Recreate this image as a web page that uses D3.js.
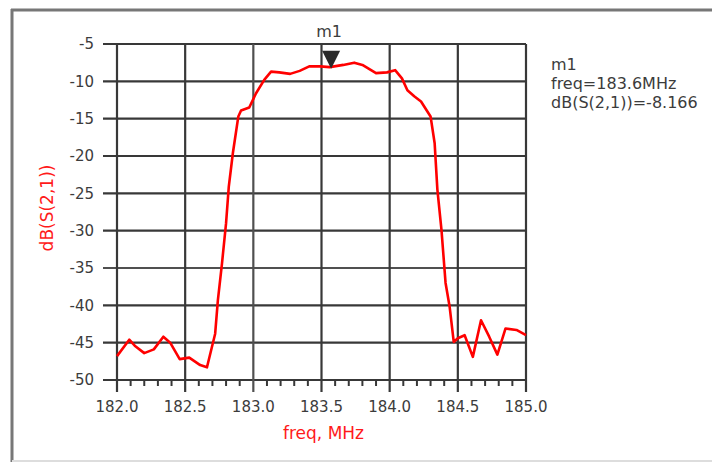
<!DOCTYPE html>
<html>
  <head>
    <meta charset="utf-8">
    <script src="https://cdn.jsdelivr.net/npm/d3@7/dist/d3.min.js"></script>
    <style type="text/css">

html, body {
  margin: 0;
  padding: 0;
  background: #fff;
}

svg text {
  font-family: "DejaVu Sans", sans-serif;
}

    </style>
  </head>
  <body>
    <svg id="chart" width="712" height="462"></svg>
    <script type="text/javascript">

// trace
var freq = [182.00, 182.09, 182.13, 182.20, 182.27, 182.34, 182.39, 182.46, 182.53, 182.61,
            182.66, 182.72, 182.74, 182.77, 182.80, 182.82, 182.85, 182.89, 182.91, 182.97,
            183.02, 183.08, 183.13, 183.19, 183.27, 183.34, 183.41, 183.49, 183.56, 183.66,
            183.74, 183.80, 183.90, 183.98, 184.04, 184.09, 184.13, 184.18, 184.23, 184.30,
            184.33, 184.35, 184.38, 184.41, 184.44, 184.47, 184.50, 184.55, 184.61, 184.67,
            184.73, 184.79, 184.85, 184.93, 185.00];
var s21 = [-46.8, -44.6, -45.4, -46.4, -45.9, -44.2, -45.0, -47.2, -47.0, -48.0,
           -48.3, -43.8, -39.3, -34.4, -29.0, -24.1, -19.6, -14.7, -13.9, -13.5,
           -11.6, -9.8, -8.7, -8.8, -9.0, -8.6, -8.0, -8.0, -8.1, -7.8,
           -7.5, -7.8, -8.9, -8.8, -8.5, -9.6, -11.2, -12.0, -12.7, -14.7,
           -18.3, -24.5, -29.9, -37.0, -40.2, -44.9, -44.4, -44.0, -46.9, -42.0,
           -44.2, -46.6, -43.1, -43.3, -44.0];

var xTicks = [182.0, 182.5, 183.0, 183.5, 184.0, 184.5, 185.0];
var yTicks = [-5, -10, -15, -20, -25, -30, -35, -40, -45, -50];
var marker = {name: "m1", freq: 183.6, value: -8.166};
var legendLines = ["m1", "freq=183.6MHz", "dB(S(2,1))=-8.166"];

var svg = d3.select("#chart");

// outer frame
svg.append("line").attr("x1", 11).attr("x2", 712).attr("y1", 10).attr("y2", 10)
    .attr("stroke", "#777").attr("stroke-width", 3);
svg.append("line").attr("x1", 12).attr("x2", 12).attr("y1", 9).attr("y2", 462)
    .attr("stroke", "#777").attr("stroke-width", 3);
svg.append("line").attr("x1", 12).attr("x2", 712).attr("y1", 461).attr("y2", 461)
    .attr("stroke", "#ddd").attr("stroke-width", 2);

var pLeft = 117, pRight = 526, pTop = 44, pBottom = 380;

var x = d3.scaleLinear().domain([182, 185]).range([pLeft, pRight]);
var y = d3.scaleLinear().domain([-50, -5]).range([pBottom, pTop]);

var grid = svg.append("g");

// horizontal grid lines, run out past the left edge as ticks
grid.selectAll("line.h")
    .data(yTicks)
  .enter().append("line")
    .attr("class", "h")
    .attr("x1", pLeft - 14)
    .attr("x2", pRight)
    .attr("y1", function(d) { return y(d); })
    .attr("y2", function(d) { return y(d); })
    .attr("stroke", function(d) { return d === -35 ? "#505050" : "#383838"; })
    .attr("stroke-width", 2.2);

// vertical grid lines, run out below the bottom as ticks
grid.selectAll("line.v")
    .data(xTicks)
  .enter().append("line")
    .attr("class", "v")
    .attr("x1", function(d) { return x(d); })
    .attr("x2", function(d) { return x(d); })
    .attr("y1", pTop)
    .attr("y2", pBottom + 12)
    .attr("stroke", function(d) { return d === 183.0 ? "#505050" : "#383838"; })
    .attr("stroke-width", 2.2);

// minor ticks
var minor = d3.range(0, 31).map(function(i) { return 182 + i * 0.1; })
    .filter(function(d, i) { return i % 5 !== 0; });
grid.selectAll("line.minor")
    .data(minor)
  .enter().append("line")
    .attr("x1", function(d) { return x(d); })
    .attr("x2", function(d) { return x(d); })
    .attr("y1", pBottom)
    .attr("y2", pBottom + 6)
    .attr("stroke", "#383838")
    .attr("stroke-width", 2);

// tick labels
svg.selectAll("text.ylab")
    .data(yTicks)
  .enter().append("text")
    .attr("x", 94)
    .attr("y", function(d) { return y(d); })
    .attr("dy", "0.36em")
    .attr("text-anchor", "end")
    .attr("font-size", 15)
    .attr("fill", "#3c3c3c")
    .text(function(d) { return d; });

svg.selectAll("text.xlab")
    .data(xTicks)
  .enter().append("text")
    .attr("x", function(d) { return x(d); })
    .attr("y", 412)
    .attr("text-anchor", "middle")
    .attr("font-size", 15)
    .attr("fill", "#3c3c3c")
    .text(function(d) { return d3.format(".1f")(d); });

// axis titles
svg.append("text")
    .attr("x", (pLeft + pRight) / 2 + 2)
    .attr("y", 439)
    .attr("text-anchor", "middle")
    .attr("font-size", 17)
    .attr("fill", "#ff1a1a")
    .text("freq, MHz");

svg.append("text")
    .attr("transform", "translate(53,208) rotate(-90)")
    .attr("text-anchor", "middle")
    .attr("font-size", 17)
    .attr("fill", "#ff1a1a")
    .text("dB(S(2,1))");

// the trace
var pts = freq.map(function(f, i) { return [f, s21[i]]; });
var line = d3.line()
    .x(function(d) { return x(d[0]); })
    .y(function(d) { return y(d[1]); });

svg.append("path")
    .datum(pts)
    .attr("d", line)
    .attr("fill", "none")
    .attr("stroke", "#ff0000")
    .attr("stroke-width", 2.6)
    .attr("stroke-linejoin", "round");

// marker
var mx = x(marker.freq) - 4, my = y(marker.value);
svg.append("path")
    .attr("d", "M" + (mx - 9) + "," + (my - 17) + "L" + (mx + 9) + "," + (my - 17) + "L" + mx + "," + (my + 1) + "Z")
    .attr("fill", "#2a2a2a");
svg.append("text")
    .attr("x", mx - 2)
    .attr("y", 37)
    .attr("text-anchor", "middle")
    .attr("font-size", 16)
    .attr("fill", "#3c3c3c")
    .text(marker.name);

// marker readout
svg.selectAll("text.legend")
    .data(legendLines)
  .enter().append("text")
    .attr("x", 551)
    .attr("y", function(d, i) { return 70 + i * 19; })
    .attr("font-size", 16)
    .attr("fill", "#3c3c3c")
    .text(function(d) { return d; });

    </script>
  </body>
</html>
